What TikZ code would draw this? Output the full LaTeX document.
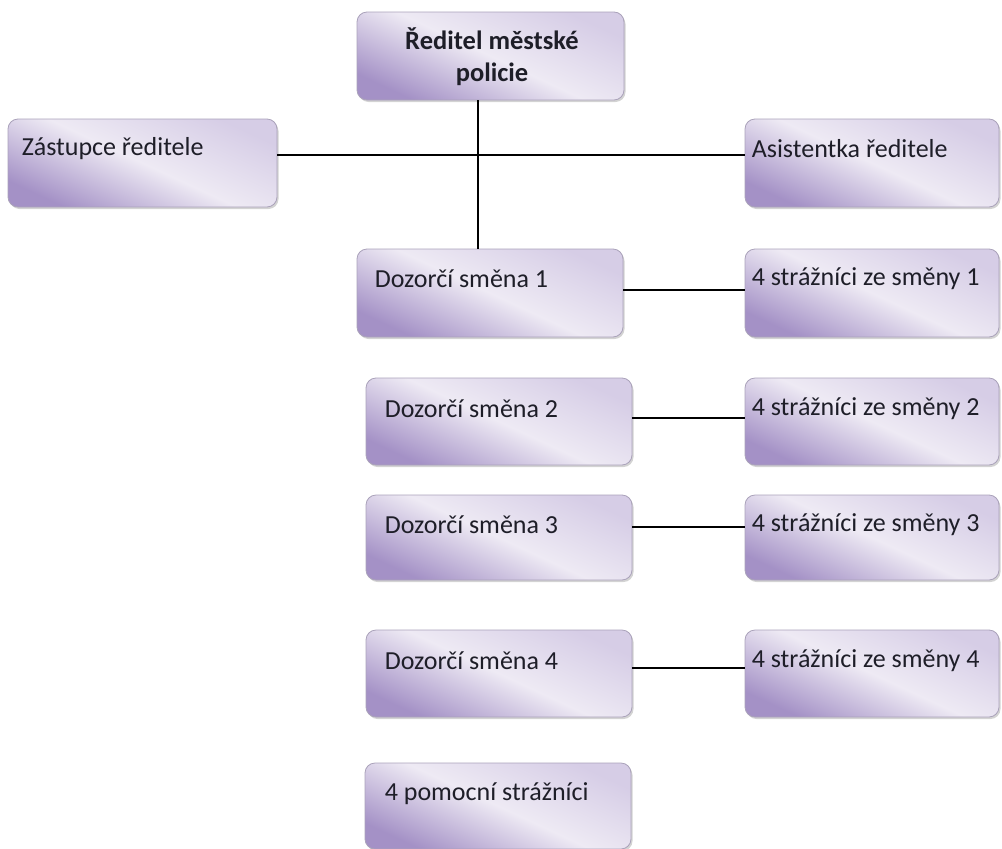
\documentclass[tikz,border=0pt]{standalone}
\usepackage{fontspec}
\setmainfont{Carlito}
\usetikzlibrary{shadows,calc}
\definecolor{boxdark}{RGB}{164,145,198}
\definecolor{boxmid}{RGB}{238,234,244}
\definecolor{boxtop}{RGB}{214,205,230}
\definecolor{boxline}{RGB}{170,162,186}
\definecolor{txtc}{RGB}{30,30,40}
\tikzset{
  box/.style={draw=boxline, line width=0.8pt, rounded corners=10pt,
    top color=boxtop, bottom color=boxdark, middle color=boxmid, shading angle=-25,
    drop shadow={opacity=0.35, shadow xshift=1.5pt, shadow yshift=-2pt},
    inner sep=0pt},
  lbl/.style={anchor=west, inner sep=0pt, font=\fontsize{26}{30}\selectfont, text=txtc},
  conn/.style={line width=1.1pt, black}
}
\begin{document}
\begin{tikzpicture}[x=1pt,y=-1pt]
\useasboundingbox (0,0) rectangle (1002,849);
% boxes
\node[box, minimum width=267, minimum height=88] (red) at (490.5,56) {};
\node[box, minimum width=269, minimum height=88] (zas) at (142.5,163) {};
\node[box, minimum width=254, minimum height=88] (asi) at (872,163) {};
\node[box, minimum width=266, minimum height=88] (d1) at (490,293) {};
\node[box, minimum width=254, minimum height=88] (s1) at (872,293) {};
\node[box, minimum width=266, minimum height=87] (d2) at (499,421.5) {};
\node[box, minimum width=254, minimum height=87] (s2) at (872,421.5) {};
\node[box, minimum width=266, minimum height=85] (d3) at (499,537.5) {};
\node[box, minimum width=254, minimum height=85] (s3) at (872,537.5) {};
\node[box, minimum width=266, minimum height=87] (d4) at (499,673.5) {};
\node[box, minimum width=254, minimum height=87] (s4) at (872,673.5) {};
\node[box, minimum width=266, minimum height=86] (p4) at (498,806) {};
% texts
\node[inner sep=0pt, align=center, font=\fontsize{26.5}{32}\selectfont\bfseries, text=txtc] (redt) at (492,57) {Ředitel městské\\policie};
\node[lbl] (zast) at ($(zas.north west)+(14,30)$) {Zástupce ředitele};
\node[lbl] (asit) at ($(asi.north west)+(7,30)$) {Asistentka ředitele};
\node[lbl] (d1t) at ($(d1.north west)+(18,30)$) {Dozorčí směna 1};
\node[lbl] (s1t) at ($(s1.north west)+(7,30)$) {4 strážníci ze směny 1};
\node[lbl] (d2t) at ($(d2.north west)+(19,31)$) {Dozorčí směna 2};
\node[lbl] (s2t) at ($(s2.north west)+(7,31)$) {4 strážníci ze směny 2};
\node[lbl] (d3t) at ($(d3.north west)+(19,30)$) {Dozorčí směna 3};
\node[lbl] (s3t) at ($(s3.north west)+(7,30)$) {4 strážníci ze směny 3};
\node[lbl] (d4t) at ($(d4.north west)+(19,31)$) {Dozorčí směna 4};
\node[lbl] (s4t) at ($(s4.north west)+(7,31)$) {4 strážníci ze směny 4};
\node[lbl] (p4t) at ($(p4.north west)+(20,31)$) {4 pomocní strážníci};
% connectors
\coordinate (vx) at (478,0);
\coordinate (hy) at (0,155);
\draw[conn] (red.south -| vx) -- (d1.north -| vx);
\draw[conn] (zas.east |- hy) -- (asi.west |- hy);
\draw[conn] (d1.east |- 0,290) -- (s1.west |- 0,290);
\draw[conn] (d2.east |- 0,418) -- (s2.west |- 0,418);
\draw[conn] (d3.east |- 0,527) -- (s3.west |- 0,527);
\draw[conn] (d4.east |- 0,668) -- (s4.west |- 0,668);
\end{tikzpicture}
\end{document}
